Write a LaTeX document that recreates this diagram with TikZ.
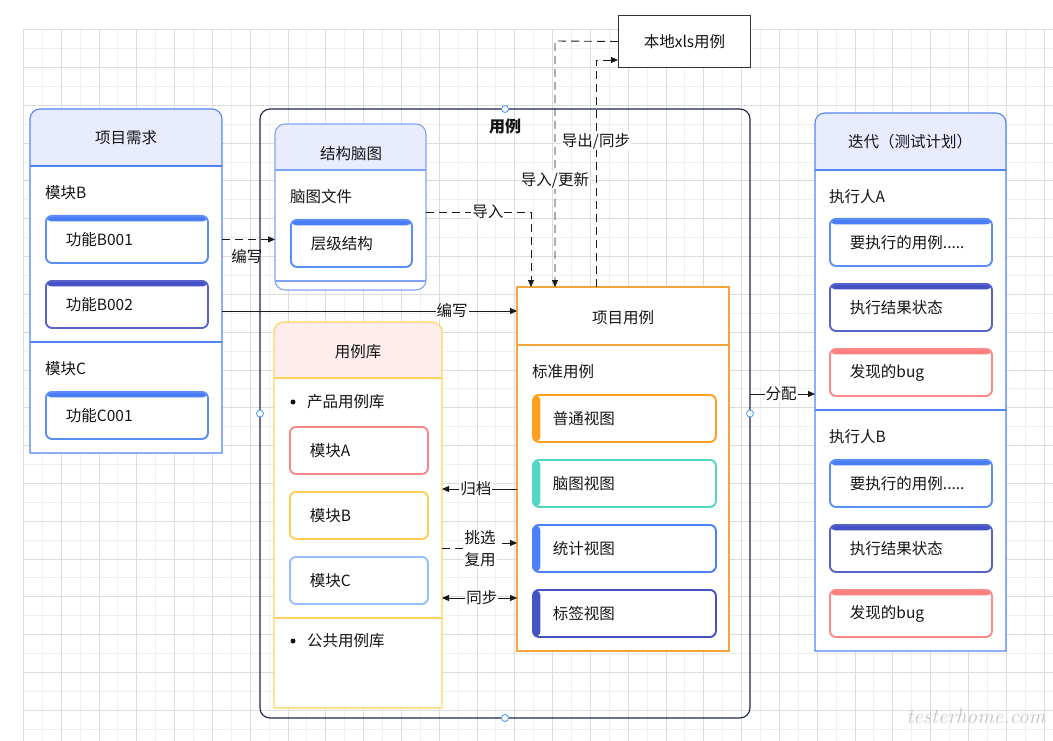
\documentclass[tikz,border=0pt]{standalone}
\usepackage{fontspec}
\newfontfamily\cjk{Noto Sans CJK SC}
\usetikzlibrary{arrows.meta}
\definecolor{txt}{HTML}{141414}
\definecolor{gminor}{HTML}{EFEFEF}
\definecolor{gmajor}{HTML}{DCDCDC}
\definecolor{pblue}{HTML}{5085F8}
\definecolor{hblue}{HTML}{E8ECFE}
\definecolor{mblue}{HTML}{7FA3FA}
\definecolor{fblue}{HTML}{4A7EF6}
\definecolor{fblueb}{HTML}{5B8DF8}
\definecolor{find}{HTML}{4452C6}
\definecolor{findb}{HTML}{5763CB}
\definecolor{fred}{HTML}{FF7F7F}
\definecolor{fredb}{HTML}{FF8787}
\definecolor{orng}{HTML}{F5A43C}
\definecolor{ylw}{HTML}{FFD35C}
\definecolor{pinkh}{HTML}{FFECEC}
\definecolor{mA}{HTML}{F88787}
\definecolor{mB}{HTML}{FFCC55}
\definecolor{mC}{HTML}{94BFFC}
\definecolor{vO}{HTML}{FF9F1F}
\definecolor{vT}{HTML}{52D7C4}
\definecolor{vB}{HTML}{4A80F8}
\definecolor{vI}{HTML}{4353C4}
\definecolor{navy}{HTML}{1E2452}
\definecolor{handle}{HTML}{3D9BFF}
\definecolor{wm}{HTML}{C4C4C4}
\definecolor{xlsc}{HTML}{333333}
\definecolor{con}{HTML}{1A1A1A}
\newcommand\toprnd[5]{\path[#5] ({#1},{(#2+#4)/2}) [rounded corners=10pt] -- ({#1},{#2}) -- ({#3},{#2}) -- ({#3},{(#2+#4)/2}) [sharp corners] -- ({#3},{#4}) -- ({#1},{#4}) -- cycle;}
\begin{document}
\begin{tikzpicture}[x=1pt,y=-1pt,
  every node/.style={font=\cjk\fontsize{15.5}{18}\selectfont, text=txt},
  area/.style={inner sep=0pt, outer sep=0pt, anchor=north west, draw=none},
  lbl/.style={anchor=west, inner sep=0pt},
  ttl/.style={inner sep=0pt},
  tb/.style 2 args={draw=#1, fill=white, line width=1.9pt, rounded corners=6pt, anchor=north west,
     minimum height=47pt, text width=122pt, inner xsep=20pt, inner ysep=0pt, align=left,
     path picture={\fill[#2] ([yshift=2pt]path picture bounding box.north west) rectangle ([yshift=-5.5pt]path picture bounding box.north east);}},
  lb/.style={draw=#1, fill=white, line width=1.9pt, rounded corners=6pt, anchor=north west,
     minimum height=47pt, text width=143pt, inner xsep=20pt, inner ysep=0pt, align=left,
     path picture={\fill[#1] ([xshift=-2pt]path picture bounding box.south west) rectangle ([xshift=7.5pt]path picture bounding box.north west);}},
  mb/.style={draw=#1, fill=white, line width=1.9pt, rounded corners=6pt, anchor=north west,
     minimum height=47pt, text width=98pt, inner xsep=20pt, inner ysep=0pt, align=left},
  elab/.style={fill=white, inner sep=1pt},
  scon/.style={draw=con, line width=0.9pt, -{Triangle[length=7pt,width=6pt]}},
  dcon/.style={scon, dash pattern=on 8pt off 5pt},
  hdl/.style={circle, draw=handle, fill=white, line width=0.8pt, minimum size=7pt, inner sep=0pt}
]
\useasboundingbox (0,0) rectangle (1053,741);
\fill[white] (0,0) rectangle (1053,741);
% grid
\foreach \i in {0,...,54}{\pgfmathsetmacro\xx{23.3+18.9*\i}\ifodd\i\draw[gminor, line width=0.8pt] (\xx,29.7) -- (\xx,741);\fi}
\foreach \i in {0,...,37}{\pgfmathsetmacro\yy{29.7+18.9*\i}\ifodd\i\draw[gminor, line width=0.8pt] (23.3,\yy) -- (1053,\yy);\fi}
\foreach \i in {0,...,54}{\pgfmathsetmacro\xx{23.3+18.9*\i}\ifodd\i\else\draw[gmajor, line width=0.8pt] (\xx,29.7) -- (\xx,741);\fi}
\foreach \i in {0,...,37}{\pgfmathsetmacro\yy{29.7+18.9*\i}\ifodd\i\else\draw[gmajor, line width=0.8pt] (23.3,\yy) -- (1053,\yy);\fi}

% named areas
\node[area, minimum width=192pt, minimum height=344pt] (req) at (30,109) {};
\node[area, minimum width=151pt, minimum height=166pt] (mind) at (275,124) {};
\node[area, minimum width=168pt, minimum height=386pt] (lib) at (274,322) {};
\node[area, minimum width=212pt, minimum height=364pt] (proj) at (517,287) {};
\node[area, minimum width=191pt, minimum height=538pt] (iter) at (815,113) {};
\node[area, minimum width=490pt, minimum height=609pt] (cont) at (260,109) {};

% container
\draw[navy, line width=1.1pt, rounded corners=10pt] (260,109) rectangle (750,718);

% 项目需求
\toprnd{30}{109}{222}{453}{fill=white}
\toprnd{30}{109}{222}{166}{fill=hblue}
\toprnd{30}{109}{222}{453}{draw=pblue, line width=1.1pt}
\draw[pblue, line width=1.1pt] (30,166) -- (222,166);
\draw[pblue, line width=1.1pt] (30,342) -- (222,342);
\node[ttl] (reqT) at (126,138) {项目需求};
\node[lbl] (reqB) at (45,193) {模块B};
\node[lbl] (reqC) at (45,369) {模块C};
\node[tb={fblueb}{fblue}] (b001) at (45,215) {功能B001};
\node[tb={findb}{find}] (b002) at (45,280) {功能B002};
\node[tb={fblueb}{fblue}] (c001) at (45,391) {功能C001};

% 结构脑图
\path[fill=white, rounded corners=10pt] (275,124) rectangle (426,290);
\toprnd{275}{124}{426}{170}{fill=hblue}
\draw[mblue, line width=1.1pt, rounded corners=10pt] (275,124) rectangle (426,290);
\draw[mblue, line width=1.1pt] (275,170) -- (426,170);
\draw[mblue, line width=1.1pt] (275,281) -- (426,281);
\node[ttl] (mindT) at (351,154) {结构脑图};
\node[lbl] (mindF) at (290,197) {脑图文件};
\node[tb={fblueb}{fblue}, text width=81pt] (tree) at (290,219) {层级结构};

% 用例库
\toprnd{274}{322}{442}{708}{fill=white}
\toprnd{274}{322}{442}{378}{fill=pinkh}
\toprnd{274}{322}{442}{708}{draw=ylw, line width=1.2pt}
\draw[ylw, line width=1.2pt] (274,378) -- (442,378);
\draw[ylw, line width=1.2pt] (274,618) -- (442,618);
\node[ttl] (libT) at (358,352) {用例库};
\node[circle, fill=txt, inner sep=0pt, minimum size=5pt] (dot1) at (293,402) {};
\node[lbl] (libP) at (307,402) {产品用例库};
\node[mb=mA] (mA) at (289,426) {模块A};
\node[mb=mB] (mB) at (289,491) {模块B};
\node[mb=mC] (mC) at (289,556) {模块C};
\node[circle, fill=txt, inner sep=0pt, minimum size=5pt] (dot2) at (293,641) {};
\node[lbl] (libG) at (307,641) {公共用例库};

% 项目用例
\draw[orng, fill=white, line width=1.2pt] (517,287) rectangle (729,651);
\draw[orng, line width=1.2pt] (517,345) -- (729,345);
\node[ttl] (projT) at (623,318) {项目用例};
\node[lbl] (projS) at (532,372) {标准用例};
\node[lb=vO] (v1) at (532,394) {普通视图};
\node[lb=vT] (v2) at (532,459) {脑图视图};
\node[lb=vB] (v3) at (532,524) {统计视图};
\node[lb=vI] (v4) at (532,589) {标签视图};

% 迭代
\toprnd{815}{113}{1006}{651}{fill=white}
\toprnd{815}{113}{1006}{170}{fill=hblue}
\toprnd{815}{113}{1006}{651}{draw=pblue, line width=1.1pt}
\draw[pblue, line width=1.1pt] (815,170) -- (1006,170);
\draw[pblue, line width=1.1pt] (815,410) -- (1006,410);
\node[ttl] (iterT) at (910,142) {迭代（测试计划）};
\node[lbl] (iterA) at (829,197) {执行人A};
\node[tb={fblueb}{fblue}] (a1) at (829,218) {要执行的用例.....};
\node[tb={findb}{find}] (a2) at (829,283) {执行结果状态};
\node[tb={fredb}{fred}] (a3) at (829,348) {发现的bug};
\node[lbl] (iterB) at (829,437) {执行人B};
\node[tb={fblueb}{fblue}] (bb1) at (829,459) {要执行的用例.....};
\node[tb={findb}{find}] (bb2) at (829,524) {执行结果状态};
\node[tb={fredb}{fred}] (bb3) at (829,589) {发现的bug};

% 本地xls
\node[draw=xlsc, fill=white, line width=1pt, minimum width=132pt, minimum height=52pt, anchor=north west] (xls) at (618,15) {本地xls用例};

% title of container
\node[font=\cjk\bfseries\fontsize{16}{19}\selectfont] (contT) at (505,126) {用例};

% connectors
\coordinate (kIn) at (555,41);
\coordinate (kOut) at (596,60);
\coordinate (kImp) at (531,212);
\coordinate (kW2) at (0,311);
\coordinate (kG) at (0,489);
\coordinate (kS1) at (480,548);
\coordinate (kS2) at (480,543);
\coordinate (kT) at (0,598);
\coordinate (kF) at (0,394);

\draw[dcon] (xls.west) -- (kIn) -- node[elab, pos=0.565] {导入/更新} (kIn |- proj.north);
\draw[dcon] (kOut |- proj.north) -- node[elab, pos=0.643] {导出/同步} (kOut) -- (kOut -| xls.west);
\draw[dcon] (kImp -| mind.east) -- node[elab, pos=0.59] {导入} (kImp) -- (kImp |- proj.north);
\draw[dcon] (b001 -| req.east) -- node[inner sep=0pt, pos=0.47, yshift=-17pt] {编写} (b001 -| mind.west);
\draw[scon] (kW2 -| req.east) -- node[elab, pos=0.78] {编写} (kW2 -| proj.west);
\draw[scon] (kG -| proj.west) -- node[elab, pos=0.55] {归档} (kG -| lib.east);
\draw[dcon] (kS1 -| lib.east) -- (kS1) -- (kS2) -- (kS2 -| proj.west);
\node[elab, align=center, font=\cjk\fontsize{15.5}{22}\selectfont] (lblS) at (480,549) {挑选\\复用};
\draw[scon, {Triangle[length=7pt,width=6pt]}-{Triangle[length=7pt,width=6pt]}] (kT -| lib.east) -- node[elab, pos=0.53] {同步} (kT -| proj.west);
\draw[scon] (kF -| cont.east) -- node[elab, pos=0.48] {分配} (kF -| iter.west);

% handles
\node[hdl] (h1) at (cont.north) {};
\node[hdl] (h2) at (cont.west) {};
\node[hdl] (h3) at (cont.east) {};
\node[hdl] (h4) at (cont.south) {};

% watermark
\node[font=\fontsize{21}{24}\selectfont\itshape, text=wm] (wmk) at (976,716) {testerhome.com};
\end{tikzpicture}
\end{document}
